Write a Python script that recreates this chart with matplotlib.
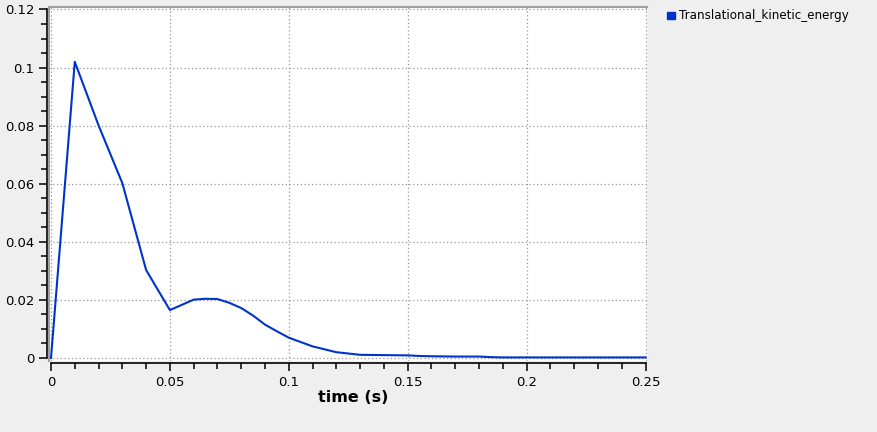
import numpy as np
import matplotlib
matplotlib.use('Agg')
import matplotlib.pyplot as plt
from matplotlib.patches import Rectangle
from matplotlib.lines import Line2D
from matplotlib.ticker import MultipleLocator

# time (s) and translational kinetic energy
time = [0.0, 0.01, 0.02, 0.03, 0.04, 0.05, 0.06, 0.065, 0.07, 0.075, 0.08,
        0.085, 0.09, 0.095, 0.10, 0.11, 0.12, 0.13, 0.14, 0.15, 0.155,
        0.16, 0.17, 0.18, 0.185, 0.19, 0.20, 0.22, 0.25]
energy = [0.0, 0.102, 0.0801, 0.0602, 0.0303, 0.0165, 0.0201, 0.0204, 0.0203,
          0.0190, 0.0172, 0.0146, 0.0115, 0.0092, 0.0070, 0.0040, 0.0020,
          0.0011, 0.0010, 0.0009, 0.0007, 0.0006, 0.0005, 0.0005, 0.0003,
          0.0002, 0.0002, 0.0002, 0.0002]
series_name = 'Translational_kinetic_energy'

bg = '#efefef'
blue = '#0033cc'
frame = '#a0a0a0'
fig = plt.figure(figsize=(8.77, 4.32), dpi=100, facecolor=bg)
W, H = 877.0, 432.0
# white plot area: x 49..647, y 7..361 px
ax = fig.add_axes([49 / W, 1 - 361 / H, (647 - 49) / W, (361 - 7) / H])
ax.set_facecolor('white')

ax.plot(time, energy, color=blue, lw=1.5, label=series_name, zorder=3)

ax.set_xlim(-0.00084, 0.25063)
ax.set_ylim(-0.00103, 0.12086)

ax.xaxis.set_major_locator(MultipleLocator(0.05))
ax.xaxis.set_minor_locator(MultipleLocator(0.01))
ax.yaxis.set_major_locator(MultipleLocator(0.02))
ax.yaxis.set_minor_locator(MultipleLocator(0.005))
ax.xaxis.set_major_formatter(lambda v, p: '%g' % round(v, 4))
ax.yaxis.set_major_formatter(lambda v, p: '%g' % round(v, 4))

ax.grid(True, which='major', color='#999999', ls=(0, (1, 2)), lw=0.9)

ax.spines['right'].set_visible(False)
ax.spines['top'].set_color(frame)
ax.spines['top'].set_linewidth(1.5)
for s in ['left', 'bottom']:
    ax.spines[s].set_color('black')
    ax.spines[s].set_linewidth(1.2)
ax.spines['left'].set_position(('outward', 1.7))
ax.spines['bottom'].set_position(('outward', 1.5))
ax.spines['left'].set_bounds(0, 0.12)
ax.spines['bottom'].set_bounds(0, 0.25)
ax.add_line(Line2D([0, 0], [0, 1], transform=ax.transAxes, color=frame,
                   lw=1.5, clip_on=False, zorder=5))

ax.tick_params(which='major', direction='out', length=6, width=1.1,
               labelsize=9.5, colors='black', pad=3)
ax.tick_params(which='minor', direction='out', length=4, width=1.1)

ax.set_xlabel('time (s)', fontsize=11.5, fontweight='bold', va='center')
ax.xaxis.set_label_coords(0.508, -0.1045)

fig.patches.append(Rectangle((667 / W, 1 - 19.3 / H), 7.5 / W, 7.5 / H,
                             transform=fig.transFigure, color=blue))
fig.text(679 / W, 1 - 15.5 / H, series_name, fontsize=8.6, va='center',
         ha='left')

fig.savefig('out.png', dpi=100, facecolor=bg)
